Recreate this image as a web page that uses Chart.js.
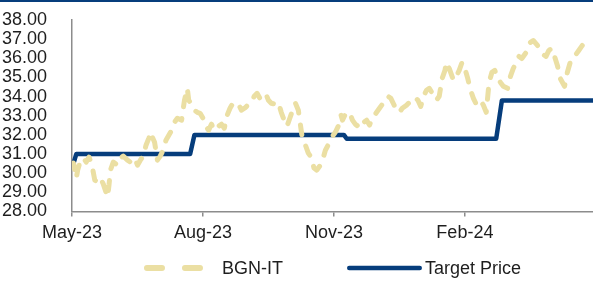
<!DOCTYPE html>
<html>
<head>
<meta charset="utf-8">
<script src="https://cdn.jsdelivr.net/npm/chart.js@4.4.1/dist/chart.umd.min.js"></script>
<style>
  html, body { margin: 0; padding: 0; background: #fff; }
  #wrap { width: 593px; height: 282px; }
</style>
</head>
<body>
<div id="wrap"><canvas id="priceChart" width="593" height="282"></canvas></div>
<script>
// Chart data - days counted from 1 May 2023
const tickDays = [0, 92, 184, 276];
const tickLabels = ['May-23', 'Aug-23', 'Nov-23', 'Feb-24'];

const priceDays = [
    0, 1, 3, 4, 6, 8, 10, 12, 14, 16,
    18, 20, 22, 25, 26, 27, 29, 32, 34, 36,
    39, 41, 44, 46, 48, 50, 52, 54, 55, 58,
    60, 62, 64, 66, 68, 70, 72, 74, 77, 79,
    81, 82, 84, 86, 88, 90, 92, 94, 96, 98,
    100, 103, 105, 107, 109, 111, 113, 115, 117, 119,
    122, 124, 126, 128, 130, 132, 134, 136, 138, 140,
    143, 145, 147, 149, 151, 153, 155, 157, 159, 162,
    164, 166, 168, 170, 172, 174, 176, 178, 181, 183,
    185, 187, 189, 190, 192, 195, 197, 199, 201, 203,
    205, 207, 209, 211, 214, 216, 218, 220, 222, 224,
    226, 228, 230, 232, 235, 237, 239, 241, 243, 245,
    247, 249, 251, 254, 256, 258, 260, 262, 263, 265,
    268, 270, 272, 274, 276, 278, 280, 282, 284, 287,
    289, 291, 293, 295, 297, 299, 301, 303, 306, 308,
    310, 312, 314, 316, 318, 320, 322, 324, 327, 329,
    331, 333, 335, 337, 339, 341, 343, 346, 348, 350,
    352, 354, 356, 358, 360, 362, 364
];
const priceValues = [
    30.37, 30.53, 29.74, 30.16, 30.68, 30.79, 30.58, 30.84, 30.42, 29.64,
    29.54, 29.74, 29.43, 28.76, 29.38, 30.16, 30.58, 30.42, 30.79, 30.89,
    30.68, 30.58, 30.79, 30.42, 30.68, 30.89, 31.46, 31.83, 32.14, 31.62,
    30.68, 30.89, 31.20, 31.72, 31.98, 32.24, 32.66, 32.87, 32.77, 33.81,
    34.43, 33.81, 33.60, 33.29, 33.18, 33.13, 32.87, 32.45, 32.24, 32.56,
    32.24, 32.45, 32.56, 32.35, 33.03, 33.39, 33.65, 33.70, 33.60, 33.29,
    33.44, 33.60, 33.70, 34.02, 34.17, 33.91, 34.02, 34.17, 33.81, 33.65,
    33.60, 33.70, 33.18, 32.77, 32.45, 32.87, 33.29, 33.65, 33.29, 31.72,
    31.46, 31.05, 30.84, 30.27, 30.16, 30.37, 30.68, 31.20, 31.62, 31.93,
    32.14, 32.45, 33.03, 32.77, 33.08, 33.18, 32.77, 32.56, 32.45, 32.35,
    32.66, 32.77, 32.51, 32.87, 33.18, 33.39, 33.60, 33.81, 34.02, 33.91,
    33.60, 33.29, 33.18, 33.39, 33.55, 33.70, 33.81, 33.96, 33.81, 33.49,
    34.02, 34.33, 34.43, 34.07, 33.81, 34.02, 34.95, 35.37, 35.79, 35.47,
    34.85, 35.06, 35.37, 35.79, 35.47, 34.95, 34.33, 33.91, 33.60, 33.81,
    33.55, 33.18, 34.74, 35.27, 35.37, 34.95, 34.74, 34.54, 34.43, 35.06,
    35.47, 35.79, 36.10, 35.99, 36.20, 36.41, 36.83, 36.93, 36.67, 36.41,
    36.20, 36.10, 36.41, 36.52, 36.10, 35.63, 34.95, 34.54, 35.27, 35.79,
    35.89, 36.20, 36.41, 36.62, 36.83, 36.93, 37.04
];

// target price changes (day, level)
const targetDays = [0, 1, 3, 83, 86, 191, 193, 298, 302, 366];
const targetValues = [30.5, 30.5, 31.0, 31.0, 32.0, 32.0, 31.8, 31.8, 33.8, 33.8];

const NAVY = '#063d7c';
const KHAKI = '#ebdfa3';
const AXIS_GREY = '#8c8c8c';
const TEXT_COLOR = '#1e1e1e';
const FONT_FAMILY = '"Liberation Sans", Arial, sans-serif';

/**
 * Legend drawn by hand so the samples look like the lines
 */
const lineLegend = {
    id: 'lineLegend',
    afterDraw(chart) {
        const ctx = chart.ctx;
        const area = chart.chartArea;
        ctx.save();

        // thin navy rule along the top
        ctx.fillStyle = NAVY;
        ctx.fillRect(0, 0, chart.width, 2);

        ctx.font = '18px ' + FONT_FAMILY;
        const sample = 75, textGap = 3, itemGap = 64;
        const items = chart.data.datasets.map(ds => ({
            ds: ds,
            w: sample + textGap + ctx.measureText(ds.label).width
        }));
        const total = items.reduce((s, it) => s + it.w, 0) + itemGap * (items.length - 1);
        let x = (area.left + area.right) / 2 - total / 2;
        const y = 268;

        items.forEach(it => {
            const lw = it.ds.legendLineWidth;
            const inset = lw / 2;
            ctx.beginPath();
            ctx.strokeStyle = it.ds.borderColor;
            ctx.lineWidth = lw;
            ctx.lineCap = it.ds.borderCapStyle;
            ctx.setLineDash(it.ds.legendDash || []);
            ctx.moveTo(x + inset, y);
            ctx.lineTo(x + sample - inset, y);
            ctx.stroke();

            ctx.setLineDash([]);
            ctx.fillStyle = TEXT_COLOR;
            ctx.textBaseline = 'middle';
            ctx.textAlign = 'left';
            ctx.fillText(it.ds.label, x + sample + textGap, y + 1);
            x += it.w + itemGap;
        });
        ctx.restore();
    }
};

const ctx = document.getElementById('priceChart');
new Chart(ctx.getContext('2d'), {
    type: 'line',
    data: {
        datasets: [
            {
                label: 'BGN-IT',
                data: priceDays.map((d, i) => ({ x: d, y: priceValues[i] })),
                borderColor: KHAKI,
                borderWidth: 5,
                legendLineWidth: 6,
                borderDash: [10, 12],
                legendDash: [15, 23],
                borderCapStyle: 'round',
                borderJoinStyle: 'round',
                pointRadius: 0,
                tension: 0,
                fill: false
            },
            {
                label: 'Target Price',
                data: targetDays.map((d, i) => ({ x: d, y: targetValues[i] })),
                borderColor: NAVY,
                borderWidth: 4.5,
                legendLineWidth: 4.5,
                borderCapStyle: 'round',
                borderJoinStyle: 'round',
                pointRadius: 0,
                tension: 0,
                fill: false
            }
        ]
    },
    options: {
        responsive: false,
        animation: false,
        layout: {
            padding: { top: 20, right: 0, bottom: 0, left: 0 }
        },
        plugins: {
            legend: { display: false },
            tooltip: { enabled: false }
        },
        scales: {
            x: {
                type: 'linear',
                min: 0,
                max: 366,
                afterBuildTicks: function(scale) {
                    scale.ticks = tickDays.map(v => ({ value: v }));
                },
                afterFit: function(scale) {
                    scale.height = 70.5;
                    scale.paddingLeft = 0;
                    scale.paddingRight = 0;
                },
                ticks: {
                    autoSkip: false,
                    maxRotation: 0,
                    padding: 6,
                    color: TEXT_COLOR,
                    font: { family: FONT_FAMILY, size: 18 },
                    callback: function(value) {
                        const i = tickDays.indexOf(value);
                        return i >= 0 ? tickLabels[i] : '';
                    }
                },
                grid: {
                    display: true,
                    drawOnChartArea: false,
                    drawTicks: true,
                    tickLength: 5,
                    color: AXIS_GREY,
                    lineWidth: 1.5
                },
                border: { display: true, color: AXIS_GREY, width: 1.5 }
            },
            y: {
                min: 28,
                max: 38,
                afterFit: function(scale) {
                    scale.width = 72;
                    scale.paddingTop = 0;
                    scale.paddingBottom = 0;
                },
                ticks: {
                    stepSize: 1,
                    autoSkip: false,
                    padding: 17,
                    color: TEXT_COLOR,
                    font: { family: FONT_FAMILY, size: 18 },
                    callback: function(value) {
                        return value.toFixed(2);
                    }
                },
                grid: { display: false },
                border: { display: true, color: AXIS_GREY, width: 1.5 }
            }
        }
    },
    plugins: [lineLegend]
});
</script>
</body>
</html>
